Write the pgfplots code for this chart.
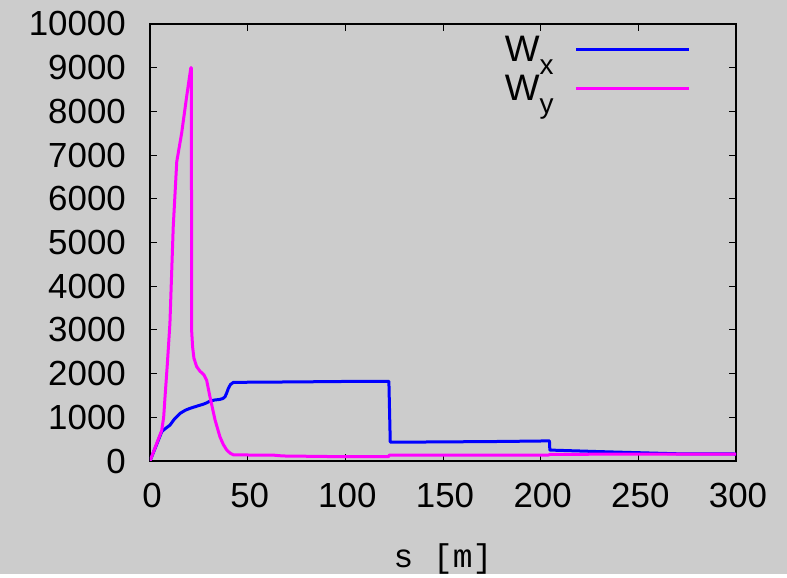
\documentclass[border=0pt]{standalone}
\usepackage{fontspec}
\setmainfont{Liberation Sans}
\setmonofont{Liberation Mono}
\usepackage{pgfplots}
\pgfplotsset{compat=1.18}
\usetikzlibrary{backgrounds,calc}
\definecolor{bg}{RGB}{204,204,204}
\definecolor{wblue}{RGB}{0,0,255}
\definecolor{wmag}{RGB}{255,0,255}
\begin{document}
\begin{tikzpicture}
\begin{axis}[
  scale only axis, width=586bp, height=437bp,
  xmin=0, xmax=300, ymin=0, ymax=10000,
  xtick={0,50,...,300}, ytick={0,1000,...,10000},
  scaled y ticks=false, scaled x ticks=false,
  tick align=inside, major tick length=7bp,
  every tick/.style={black, line width=0.8bp},
  axis line style={black, line width=1.4bp},
  /pgf/number format/1000 sep={},
  /pgf/number format/assume math mode=true,
  tick label style={font=\fontsize{35}{40}\selectfont},
  yticklabel style={anchor=east, inner sep=0pt, xshift=-24bp},
  xticklabel style={anchor=north, inner sep=0pt, yshift=-22bp, xshift=2bp},
  xlabel={\texttt{s [m]}},
  xlabel style={font=\fontsize{33}{38}\selectfont, at={(axis description cs:0.5,0)}, anchor=center, yshift=-98bp},
  legend plot pos=right,
  legend cell align=right,
  legend style={draw=none, fill=none, font=\fontsize{37}{42}\selectfont,
    at={(rel axis cs:0.923,0.975)}, anchor=north east,
    inner sep=0pt, row sep=10bp,
    nodes={inner sep=1bp},
    /tikz/every odd column/.append style={column sep=20bp}},
  legend image code/.code={\draw[#1] (0bp,0bp) -- (113bp,0bp);},
  every axis plot/.append style={line width=3bp, line join=round},
]
\coordinate (O) at (rel axis cs:0,0);
\addplot[wblue, no marks] coordinates {
(0,0) (6.0,670) (7.5,730) (10.2,820) (12.5,960) (15.4,1090) (18,1160) (20.5,1205)
(24,1255) (27.3,1300) (29,1330) (30.7,1370) (33,1395) (35.8,1410) (37.3,1430)
(38.4,1470) (39.3,1560) (40.1,1660) (41.2,1750) (42.7,1800) (60,1805) (80,1812)
(100,1820) (122.3,1822) (123.0,430) (150,437) (180,447) (204.5,460) (204.7,250)
(230,215) (250,190) (270,165) (300,160)
};
\addlegendentry{W\raisebox{-0.36em}{\fontsize{28}{28}\selectfont x}}
\addplot[wmag, no marks] coordinates {
(0,0) (6.0,700) (7.0,1000) (7.7,1470) (8.3,1850) (8.9,2235) (10.2,3150) (11.9,5360)
(13.7,6850) (16.2,7500) (18.8,8350) (20.9,9000) (21.2,9000) (21.3,3000)
(21.8,2615) (22.5,2350) (23.9,2160) (25.5,2060) (27.6,1970) (29,1850)
(30.7,1470) (33.3,940) (35.8,555) (37.5,380) (39.3,250) (41,180) (42.7,140)
(51,137) (63,135) (68,115) (100,98) (122,98) (122.6,135) (204,137) (205,153) (300,160)
};
\addlegendentry{W\raisebox{-0.36em}{\fontsize{28}{28}\selectfont y}}
\end{axis}
\begin{scope}[on background layer]
\fill[bg] ($(O)+(-150bp,-113bp)$) rectangle ($(O)+(637bp,461bp)$);
\end{scope}
\end{tikzpicture}
\end{document}
